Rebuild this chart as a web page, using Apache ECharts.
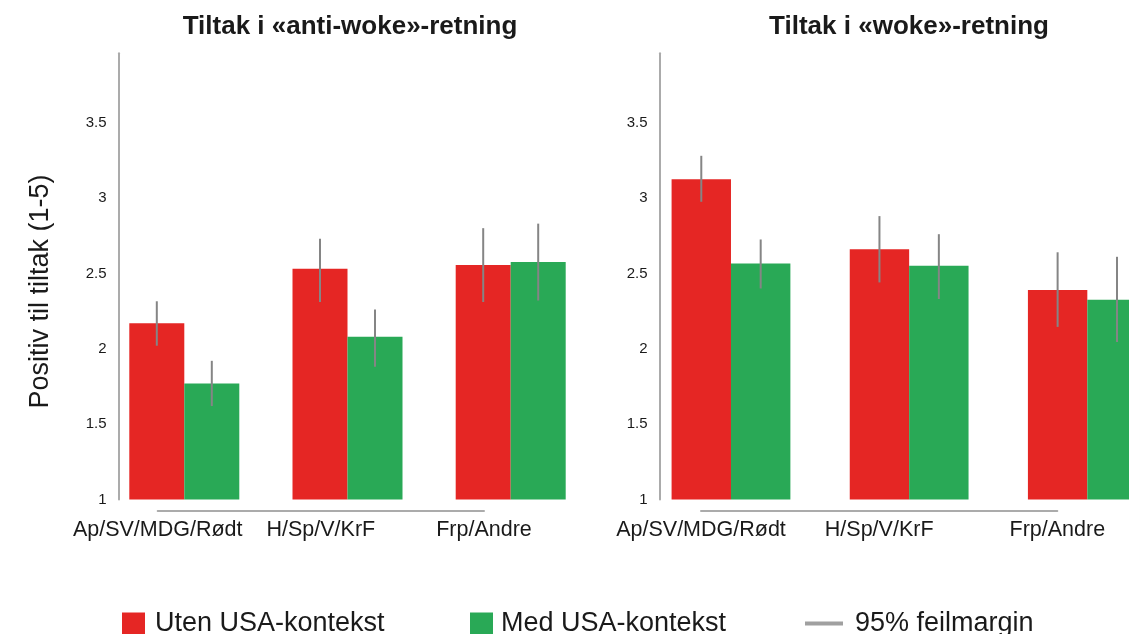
<!DOCTYPE html>
<html>
<head>
<meta charset="utf-8">
<script src="https://cdn.jsdelivr.net/npm/echarts@6/dist/echarts.min.js"></script>
<style>html,body{margin:0;padding:0;background:#fff}#c{width:1129px;height:634px}</style>
</head>
<body>
<div id="c"></div>
<script>
const categories = ['Ap/SV/MDG/Rødt', 'H/Sp/V/KrF', 'Frp/Andre'];
const yTicks = [1, 1.5, 2, 2.5, 3, 3.5];
const titles = ['Tiltak i «anti-woke»-retning', 'Tiltak i «woke»-retning'];
const seriesNames = ['Uten USA-kontekst', 'Med USA-kontekst', '95% feilmargin'];

// Left panel: anti-woke
const antiUten = [2.17, 2.53, 2.555];
const antiUtenLo = [2.02, 2.31, 2.31];
const antiUtenHi = [2.315, 2.73, 2.80];
const antiMed = [1.77, 2.08, 2.575];
const antiMedLo = [1.62, 1.88, 2.32];
const antiMedHi = [1.92, 2.26, 2.83];

// Right panel: woke
const wokeUten = [3.125, 2.66, 2.39];
const wokeUtenLo = [2.975, 2.44, 2.145];
const wokeUtenHi = [3.28, 2.88, 2.64];
const wokeMed = [2.565, 2.55, 2.325];
const wokeMedLo = [2.40, 2.33, 2.045];
const wokeMedHi = [2.725, 2.76, 2.61];

const RED = '#e52624', GREEN = '#29a956', ERR = '#858585', AXIS = '#ababab';
const FONT = 'Liberation Sans, Arial, Helvetica, sans-serif';
const TXT = '#1a1a1a';

function errData(utenLo, utenHi, medLo, medHi) {
  const d = [];
  categories.forEach((c, i) => {
    d.push([i, utenLo[i], utenHi[i], -1]);
    d.push([i, medLo[i], medHi[i], 1]);
  });
  return d;
}
function errSeries(idx, data, bw) {
  return {
    type: 'custom', name: seriesNames[2], xAxisIndex: idx, yAxisIndex: idx, z: 5,
    itemStyle: { color: '#999' },
    encode: { x: 0, y: [1, 2] },
    data: data,
    renderItem: function (params, api) {
      const x = api.value(0), lo = api.value(1), hi = api.value(2), side = api.value(3);
      const p1 = api.coord([x, lo]), p2 = api.coord([x, hi]);
      const dx = side * bw / 2;
      return { type: 'line', shape: { x1: p1[0] + dx, y1: p1[1], x2: p2[0] + dx, y2: p2[1] },
        style: { stroke: ERR, lineWidth: 2 } };
    }
  };
}

const yMin = yTicks[0], yMax = 3.96;
function yAxisMain(idx, offset) {
  return {
    type: 'value', gridIndex: idx, min: yMin, max: yMax, interval: 0.5, offset: offset,
    axisLine: { show: true, lineStyle: { color: AXIS, width: 2 } },
    axisTick: { show: false }, splitLine: { show: false },
    axisLabel: { showMaxLabel: false, fontSize: 15, color: TXT, fontFamily: FONT, margin: 12 }
  };
}
function labelXAxis(idx) {
  return {
    type: 'category', gridIndex: idx, data: categories, boundaryGap: false,
    axisLine: { show: true, lineStyle: { color: AXIS, width: 2 } },
    axisTick: { show: false },
    axisLabel: { fontSize: 21.5, color: TXT, fontFamily: FONT, margin: 9, interval: 0,
      showMinLabel: true, showMaxLabel: true }
  };
}

const option = {
  animation: false,
  backgroundColor: '#fff',
  title: [
    { text: titles[0], left: 350, top: 14, textAlign: 'center', padding: 0,
      textStyle: { fontSize: 26, fontWeight: 'bold', color: TXT, fontFamily: FONT, lineHeight: 26 } },
    { text: titles[1], left: 909, top: 14, textAlign: 'center', padding: 0,
      textStyle: { fontSize: 26, fontWeight: 'bold', color: TXT, fontFamily: FONT, lineHeight: 26 } }
  ],
  legend: [
    { left: 122, top: 610, padding: 0, itemWidth: 23, itemHeight: 22, icon: 'rect',
      data: [seriesNames[0]], textStyle: { fontSize: 27, color: TXT, fontFamily: FONT, padding: [0, 0, 0, 5] } },
    { left: 470, top: 610, padding: 0, itemWidth: 23, itemHeight: 22, icon: 'rect',
      data: [seriesNames[1]], textStyle: { fontSize: 27, color: TXT, fontFamily: FONT, padding: [0, 0, 0, 3] } },
    { left: 805, top: 610, padding: 0, itemWidth: 38, itemHeight: 4, icon: 'rect',
      data: [{ name: seriesNames[2], itemStyle: { color: '#a0a0a0' } }],
      textStyle: { fontSize: 27, color: TXT, fontFamily: FONT, padding: [0, 0, 0, 7] } }
  ],
  grid: [
    { left: 102.7, width: 489.6, top: 53.3, bottom: 134.5, outerBoundsMode: 'none' },
    { left: 641.9, width: 534.5, top: 53.3, bottom: 134.5, outerBoundsMode: 'none' },
    { left: 157.7, width: 326.3, top: 300, bottom: 123.5, outerBoundsMode: 'none' },
    { left: 701, width: 356.3, top: 300, bottom: 123.5, outerBoundsMode: 'none' }
  ],
  xAxis: [
    { type: 'category', gridIndex: 0, data: categories, show: false },
    { type: 'category', gridIndex: 1, data: categories, show: false },
    labelXAxis(2),
    labelXAxis(3)
  ],
  yAxis: [
    yAxisMain(0, -15.8),
    yAxisMain(1, -17.6),
    { type: 'value', gridIndex: 2, show: false },
    { type: 'value', gridIndex: 3, show: false }
  ],
  graphic: [
    { type: 'text', x: 41, y: 291.5, rotation: Math.PI / 2,
      style: { text: 'Positiv til tiltak (1-5)', fontSize: 27, fill: TXT, fontFamily: FONT,
        align: 'center', verticalAlign: 'middle' } }
  ],
  series: [
    { type: 'bar', name: seriesNames[0], xAxisIndex: 0, yAxisIndex: 0, data: antiUten,
      barWidth: 55, barGap: '0%', itemStyle: { color: RED } },
    { type: 'bar', name: seriesNames[1], xAxisIndex: 0, yAxisIndex: 0, data: antiMed,
      barWidth: 55, barGap: '0%', itemStyle: { color: GREEN } },
    errSeries(0, errData(antiUtenLo, antiUtenHi, antiMedLo, antiMedHi), 55),
    { type: 'bar', name: seriesNames[0], xAxisIndex: 1, yAxisIndex: 1, data: wokeUten,
      barWidth: 59.4, barGap: '0%', itemStyle: { color: RED } },
    { type: 'bar', name: seriesNames[1], xAxisIndex: 1, yAxisIndex: 1, data: wokeMed,
      barWidth: 59.4, barGap: '0%', itemStyle: { color: GREEN } },
    errSeries(1, errData(wokeUtenLo, wokeUtenHi, wokeMedLo, wokeMedHi), 59.4)
  ]
};

const chart = echarts.init(document.getElementById('c'), null, { renderer: 'canvas' });
chart.setOption(option);
</script>
</body>
</html>
